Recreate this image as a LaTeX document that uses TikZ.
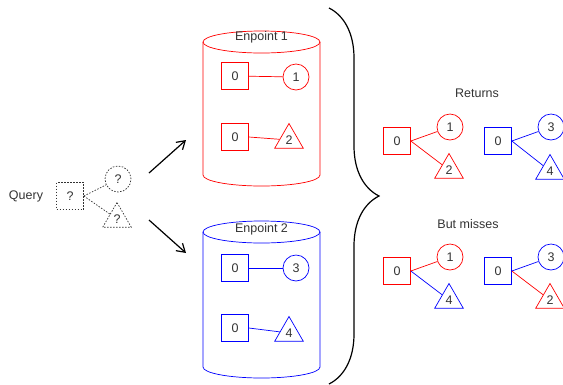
\documentclass[tikz,border=0pt]{standalone}
\usepackage{fontspec}
\setmainfont{Liberation Sans}
\usetikzlibrary{shapes,positioning,decorations.pathreplacing,arrows.meta}

\begin{document}
\begin{tikzpicture}[x=1pt,y=-1pt,line width=0.7pt,
font=\fontsize{12.5}{14}\selectfont, text=black!80]
\tikzstyle{sq}=[rectangle,draw,minimum size=27pt,inner sep=0pt,text=black!80]
\tikzstyle{rd}=[circle,draw,minimum size=26pt,inner sep=0pt,text=black!80]
\tikzstyle{tri}=[regular polygon,regular polygon sides=3,draw,
minimum size=33pt,inner sep=0pt,text=black!80]
\tikzstyle{dots}=[dash pattern=on 1.5pt off 1.5pt,draw=black!80]
\tikzstyle{big}=[-{Straight Barb[length=8pt,width=10pt]},line width=1.2pt]

\useasboundingbox (0,0) rectangle (563,384);

% query
\node (qry) at (26,196) {Query};
\node[sq,dots] (q) at (70,196) {?};
\node[rd,dots] (qc) at (118,179) {?};
\node[tri,dots] (qt) at (117,219) {?};
\path[dots] (q.east) edge (qc) (q.east) edge (qt);

\coordinate (up1) at (149,173);
\coordinate (up2) at (186,140);
\coordinate (dn1) at (149,220);
\coordinate (dn2) at (186,253);
\draw[big] (up1) -- (up2);
\draw[big] (dn1) -- (dn2);

% endpoint 1
\draw[red] (203,42) -- (203,175)
arc[start angle=180,end angle=0,x radius=58.5,y radius=11] -- (320,42);
\draw[red] (261.5,42) ellipse[x radius=58.5,y radius=11];
\node (ep1) at (261.5,37) {Enpoint 1};

\node[sq,draw=red] (a0) at (235,76) {0};
\node[rd,draw=red] (a1) at (296,77) {1};
\node[sq,draw=red] (b0) at (235,137) {0};
\node[tri,draw=red] (b2) at (289,140) {2};
\path[red] (a0) edge (a1) (b0.east) edge (b2);

% endpoint 2
\draw[blue] (203,232) -- (203,367)
arc[start angle=180,end angle=0,x radius=58.5,y radius=11] -- (320,232);
\draw[blue] (261.5,232) ellipse[x radius=58.5,y radius=11];
\node (ep2) at (261.5,229) {Enpoint 2};

\node[sq,draw=blue] (c0) at (235,268) {0};
\node[rd,draw=blue] (c3) at (296,268) {3};
\node[sq,draw=blue] (d0) at (235,328) {0};
\node[tri,draw=blue] (d4) at (289,333) {4};
\path[blue] (c0) edge (c3) (d0.east) edge (d4);

% brace
\coordinate (br1) at (329,8);
\coordinate (br2) at (329,384);
\draw[decorate,decoration={brace,amplitude=50pt},line width=1.2pt] (br1) -- (br2);

% returns
\node (ret) at (477,93) {Returns};
\node[sq,draw=red] (r0) at (397,141) {0};
\node[rd,draw=red] (r1) at (450,127) {1};
\node[tri,draw=red] (r2) at (449,170) {2};
\path[red] (r0.east) edge (r1) (r0.east) edge (r2);
\node[sq,draw=blue] (s0) at (498,141) {0};
\node[rd,draw=blue] (s3) at (551,127) {3};
\node[tri,draw=blue] (s4) at (550,171) {4};
\path[blue] (s0.east) edge (s3) (s0.east) edge (s4);

% but misses
\node (mis) at (468,224) {But misses};
\node[sq,draw=red] (m0) at (397,271) {0};
\node[rd,draw=red] (m1) at (450,257) {1};
\node[tri,draw=blue] (m4) at (449,300) {4};
\path[red] (m0.east) edge (m1);
\path[blue] (m0.east) edge (m4);
\node[sq,draw=blue] (n0) at (498,271) {0};
\node[rd,draw=blue] (n3) at (551,257) {3};
\node[tri,draw=red] (n2) at (550,300) {2};
\path[blue] (n0.east) edge (n3);
\path[red] (n0.east) edge (n2);

\end{tikzpicture}
\end{document}
